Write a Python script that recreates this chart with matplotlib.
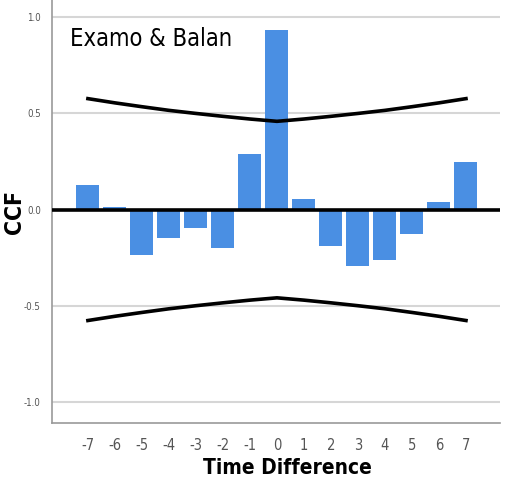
import matplotlib.pyplot as plt

lags = [-7, -6, -5, -4, -3, -2, -1, 0, 1, 2, 3, 4, 5, 6, 7]
ccf = [0.128, 0.015, -0.235, -0.15, -0.097, -0.20, 0.287, 0.933,
       0.053, -0.187, -0.296, -0.262, -0.125, 0.038, 0.245]
upper = [0.577, 0.555, 0.535, 0.516, 0.500, 0.485, 0.471, 0.459,
         0.471, 0.485, 0.500, 0.516, 0.535, 0.555, 0.577]
lower = [-v for v in upper]
yticks = [-1.0, -0.5, 0.0, 0.5, 1.0]

plt.rcParams['font.family'] = ['DejaVu Sans']
plt.rcParams['font.stretch'] = 'condensed'
plt.rcParams['axes.unicode_minus'] = False

fig = plt.figure(figsize=(5.05, 4.84), dpi=100)
ax = fig.add_axes([52 / 505, 61 / 484, 448 / 505, 423 / 484])

ax.bar(lags, ccf, width=0.85, color='#4a8fe3', zorder=2)
ax.axhline(0, color='black', lw=2.6, zorder=3)
ax.plot(lags, upper, color='black', lw=2.6, zorder=3)
ax.plot(lags, lower, color='black', lw=2.6, zorder=3)

ax.set_xlim(-8.33, 8.26)
ax.set_ylim(-1.11, 1.09)
ax.set_yticks(yticks)
ax.set_yticklabels([f'{v:.1f}' for v in yticks])
ax.set_xticks(lags)
ax.yaxis.grid(True, color='#d6d6d6', lw=1.5, zorder=0)
ax.set_axisbelow(True)
ax.tick_params(axis='y', length=0, labelsize=7, labelcolor='#555555', pad=8)
ax.tick_params(axis='x', length=0, labelsize=10.5, labelcolor='#555555', pad=11)

for s in ['top', 'right']:
    ax.spines[s].set_visible(False)
for s in ['left', 'bottom']:
    ax.spines[s].set_color('#999999')
    ax.spines[s].set_linewidth(1.2)

ax.set_ylabel('CCF', fontsize=16.5, fontweight='bold', va='center')
ax.yaxis.set_label_coords(-37 / 448, 0.5)
ax.set_xlabel('Time Difference', fontsize=15, fontweight='bold', labelpad=5)
ax.xaxis.set_label_coords(235 / 448, -35 / 423)
ax.xaxis.label.set_va('top')
ax.text(0.04, 0.935, 'Examo & Balan', transform=ax.transAxes, fontsize=17,
        va='top', ha='left', color='black')

fig.savefig('out.png', dpi=100)
